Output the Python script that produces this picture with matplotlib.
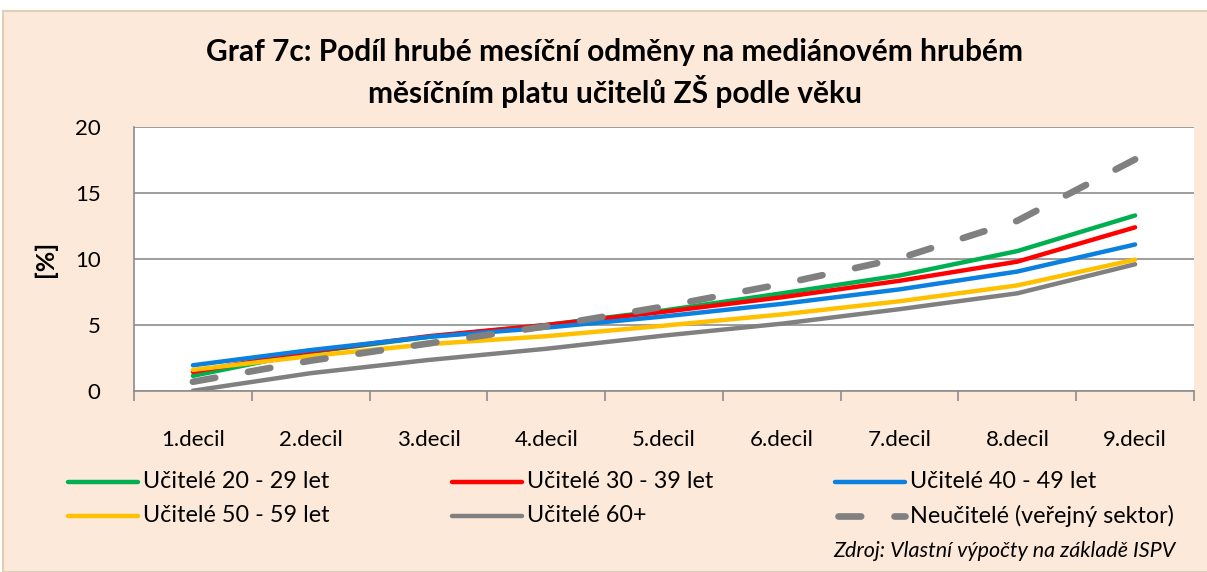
import matplotlib
matplotlib.use("Agg")
import matplotlib.pyplot as plt
from matplotlib.lines import Line2D
from matplotlib.patches import Rectangle

plt.rcParams['font.family'] = ['Lato', 'DejaVu Sans']

categories = ["1.decil", "2.decil", "3.decil", "4.decil", "5.decil",
              "6.decil", "7.decil", "8.decil", "9.decil"]
series_names = ["Učitelé 20 - 29 let", "Učitelé 30 - 39 let", "Učitelé 40 - 49 let",
                "Učitelé 50 - 59 let", "Učitelé 60+", "Neučitelé (veřejný sektor)"]
ucitele_20_29 = [1.15, 2.95, 4.1, 5.0, 6.1, 7.4, 8.75, 10.6, 13.3]
ucitele_30_39 = [1.45, 3.0, 4.15, 5.0, 6.0, 7.1, 8.35, 9.8, 12.4]
ucitele_40_49 = [1.95, 3.1, 4.1, 4.8, 5.65, 6.6, 7.7, 9.05, 11.1]
ucitele_50_59 = [1.6, 2.65, 3.55, 4.15, 4.95, 5.8, 6.8, 8.0, 9.95]
ucitele_60 = [0.02, 1.35, 2.35, 3.2, 4.2, 5.1, 6.2, 7.4, 9.6]
neucitele = [0.7, 2.3, 3.6, 4.9, 6.4, 8.1, 10.05, 12.9, 17.55]
y_ticks = [0, 5, 10, 15, 20]

values = [ucitele_20_29, ucitele_30_39, ucitele_40_49, ucitele_50_59, ucitele_60, neucitele]
colors = ["#00B050", "#FF0000", "#0A80E0", "#FFC000", "#808080", "#808080"]
dashed = [False, False, False, False, False, True]

W, H = 1207, 572
fig = plt.figure(figsize=(W / 100, H / 100), dpi=100)
fig.patch.set_facecolor("white")
fig.add_artist(Rectangle((3 / W, 0), 1.1, 1 - 11 / H, transform=fig.transFigure,
                         facecolor="#FDE9D9", edgecolor="#DDD0B8", linewidth=1.5, zorder=-10))

ax = fig.add_axes([134 / W, 1 - 391 / H, (1194 - 134) / W, (391 - 127) / H])
ax.set_facecolor("white")
x = list(range(len(categories)))
for vals, c, d in zip(values, colors, dashed):
    if d:
        ax.plot(x, vals, color=c, lw=4.8, linestyle=(0, (3.4, 5.0)),
                dash_capstyle="round", solid_capstyle="round", zorder=3)
    else:
        ax.plot(x, vals, color=c, lw=3.2, solid_capstyle="round", zorder=2)

ax.set_xlim(-0.5, len(categories) - 0.5)
ax.set_ylim(0, 20)
ax.set_yticks(y_ticks)
ax.set_yticklabels([str(v) for v in y_ticks], fontsize=16)
ax.yaxis.grid(True, color="#8C8C8C", lw=1.2)
ax.set_axisbelow(True)
ax.tick_params(axis="y", length=0, pad=24)
ax.set_xticks(x)
ax.set_xticklabels(categories, fontsize=16)
ax.set_xticks([i + 0.5 for i in range(-1, len(categories))], minor=True)
ax.tick_params(axis="x", which="major", length=0, pad=28)
ax.tick_params(axis="x", which="minor", length=7, width=1.2, color="#8C8C8C", direction="out")
for s in ["top", "right"]:
    ax.spines[s].set_visible(False)
for s in ["left", "bottom"]:
    ax.spines[s].set_color("#8C8C8C")
    ax.spines[s].set_linewidth(1.2)
ax.set_ylabel("[%]", fontsize=18, fontweight="bold", labelpad=13)

fig.text(615 / W, 1 - 52 / H, "Graf 7c: Podíl hrubé mesíční odměny na mediánovém hrubém",
         ha="center", va="center", fontsize=21.5, fontweight="bold")
fig.text(615 / W, 1 - 92 / H, "měsíčním platu učitelů ZŠ podle věku",
         ha="center", va="center", fontsize=21.5, fontweight="bold")

# legend (manual layout, 3 columns x 2 rows)
col_x = [68, 452, 835]
row_y = [482, 516]
for i, (name, c, d) in enumerate(zip(series_names, colors, dashed)):
    cx = col_x[i % 3]
    cy = row_y[i // 3]
    yy = 1 - cy / H
    if d:
        ln = Line2D([(cx + 3) / W, (cx + 70) / W], [yy, yy], transform=fig.transFigure,
                    color=c, lw=4.8, linestyle=(0, (3.4, 5.0)), dash_capstyle="round")
    else:
        ln = Line2D([cx / W, (cx + 70) / W], [yy, yy], transform=fig.transFigure,
                    color=c, lw=3.2, solid_capstyle="round")
    fig.add_artist(ln)
    fig.text((cx + 75) / W, yy, name, ha="left", va="center", fontsize=16.8)

fig.text(1176 / W, 1 - 551 / H, "Zdroj: Vlastní výpočty na základě ISPV",
         ha="right", va="center", fontsize=15.5, style="italic")

fig.savefig("out.png", dpi=100, facecolor=fig.get_facecolor())
